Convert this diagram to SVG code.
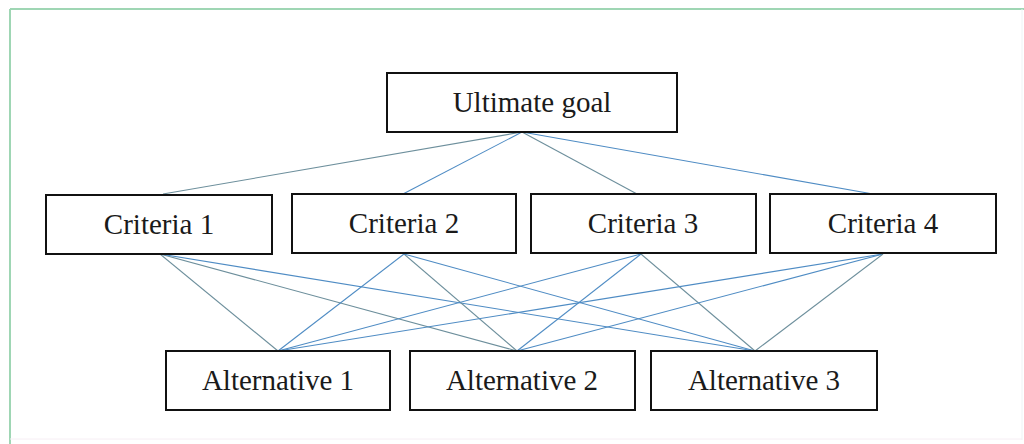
<svg xmlns="http://www.w3.org/2000/svg" width="1024" height="444" viewBox="0 0 1024 444">
  <style>
    .box { fill: #ffffff; stroke: #111111; stroke-width: 2; }
    .lbl { font-family: "Liberation Serif", "Times New Roman", serif; font-size: 29px; fill: #1a1a1a; text-anchor: middle; }
    .c1 { stroke: #4f8cc4; stroke-width: 1.1; fill: none; }
    .c2 { stroke: #6d8f9c; stroke-width: 1.1; fill: none; }
  </style>
  <rect x="0" y="0" width="1024" height="444" fill="#ffffff"/>
  <g id="frame">
    <line x1="10" y1="9" x2="1024" y2="9" stroke="#9fd6b4" stroke-width="2"/>
    <line x1="10" y1="9" x2="10" y2="444" stroke="#9fd6b4" stroke-width="2"/>
    <line x1="1022" y1="9" x2="1022" y2="440" stroke="#eef3f5" stroke-width="1"/>
    <line x1="10" y1="439" x2="1022" y2="439" stroke="#f6eef4" stroke-width="1"/>
  </g>
  <g id="connectors">
    <line class="c2" x1="522" y1="132" x2="163" y2="194"/>
    <line class="c1" x1="522" y1="132" x2="403" y2="194"/>
    <line class="c2" x1="522" y1="132" x2="637" y2="194"/>
    <line class="c1" x1="522" y1="132" x2="873" y2="194"/>

    <line class="c2" x1="160" y1="254" x2="278" y2="351"/>
    <line class="c2" x1="160" y1="254" x2="517" y2="351"/>
    <line class="c1" x1="160" y1="254" x2="755" y2="351"/>

    <line class="c1" x1="404" y1="254" x2="278" y2="351"/>
    <line class="c2" x1="404" y1="254" x2="517" y2="351"/>
    <line class="c1" x1="404" y1="254" x2="755" y2="351"/>

    <line class="c1" x1="641" y1="254" x2="278" y2="351"/>
    <line class="c1" x1="641" y1="254" x2="517" y2="351"/>
    <line class="c2" x1="641" y1="254" x2="755" y2="351"/>

    <line class="c1" x1="883" y1="254" x2="278" y2="351"/>
    <line class="c1" x1="883" y1="254" x2="517" y2="351"/>
    <line class="c2" x1="883" y1="254" x2="755" y2="351"/>
  </g>
  <g id="goal">
    <rect class="box" x="387" y="73" width="290" height="59"/>
    <text class="lbl" x="532" y="112">Ultimate goal</text>
  </g>
  <g id="criteria1">
    <rect class="box" x="46" y="195" width="226" height="59"/>
    <text class="lbl" x="159" y="234">Criteria 1</text>
  </g>
  <g id="criteria2">
    <rect class="box" x="292" y="194" width="224" height="59"/>
    <text class="lbl" x="404" y="233">Criteria 2</text>
  </g>
  <g id="criteria3">
    <rect class="box" x="531" y="194" width="225" height="59"/>
    <text class="lbl" x="643" y="233">Criteria 3</text>
  </g>
  <g id="criteria4">
    <rect class="box" x="770" y="194" width="226" height="59"/>
    <text class="lbl" x="883" y="233">Criteria 4</text>
  </g>
  <g id="alternative1">
    <rect class="box" x="166" y="351" width="224" height="59"/>
    <text class="lbl" x="278" y="390">Alternative 1</text>
  </g>
  <g id="alternative2">
    <rect class="box" x="410" y="351" width="225" height="59"/>
    <text class="lbl" x="522" y="390">Alternative 2</text>
  </g>
  <g id="alternative3">
    <rect class="box" x="651" y="351" width="226" height="59"/>
    <text class="lbl" x="764" y="390">Alternative 3</text>
  </g>
</svg>
